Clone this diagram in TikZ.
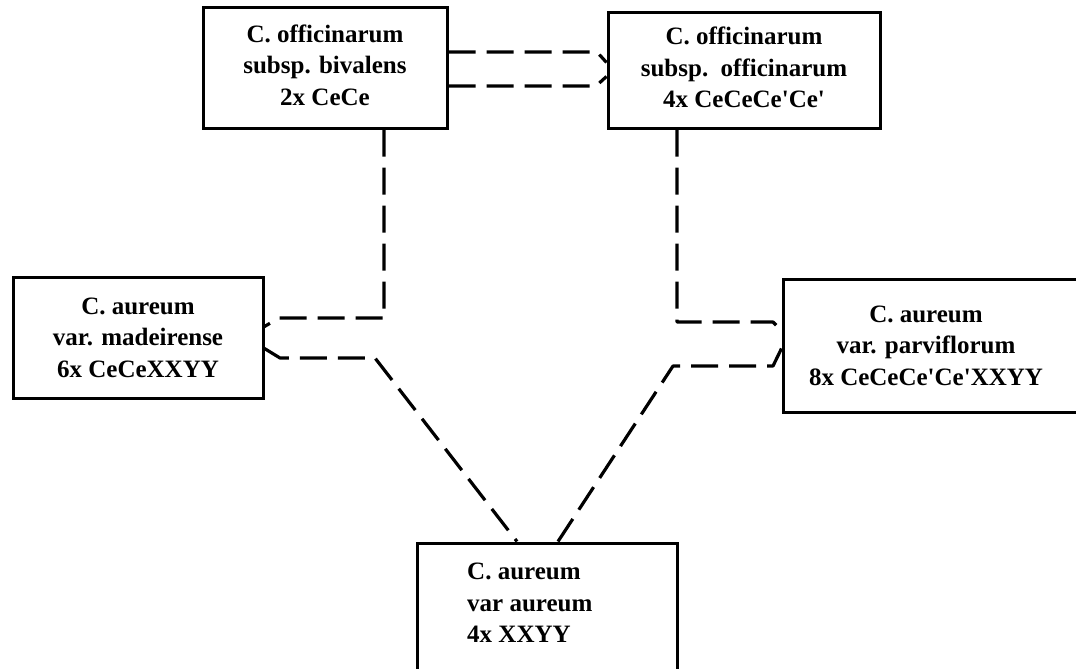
\documentclass[tikz,border=0pt]{standalone}
\usepackage{fontspec}
\setmainfont{Liberation Serif}[Ligatures=TeXOff]
\usetikzlibrary{calc}
\begin{document}
\begin{tikzpicture}[x=1pt,y=-1pt,
  box/.style={draw,line width=3pt,inner sep=0pt,align=center,
    font=\fontsize{25}{31.5}\selectfont\bfseries},
  conn/.style={line width=3.2pt,dash pattern=on 27pt off 11pt,line join=round},
  lbl/.style={inner sep=0pt,font=\fontsize{25}{31.5}\selectfont\bfseries}]
\useasboundingbox (0,0) rectangle (1076,669);
\begin{scope}
\clip (0,0) rectangle (1076,669);
\node[box,minimum width=244pt,minimum height=120pt] (b1) at (325,68)
  {C. officinarum\\subsp. bivalens\\2x CeCe\rule[-6pt]{0pt}{1pt}};
\node[box,minimum width=272pt,minimum height=115pt] (b2) at (744,70.5)
  {C. officinarum\\subsp.\ \ officinarum\\4x CeCeCe'Ce'\rule[-6pt]{0pt}{1pt}};
\node[box,minimum width=250pt,minimum height=121pt] (b3) at (138,337.5)
  {C. aureum\\var. madeirense\\6x CeCeXXYY};
\node[box,minimum width=299pt,minimum height=133pt] (b4) at (932.5,345.5) {};
\node[lbl,align=center] (t4) at (926,345.5)
  {C. aureum\\var. parviflorum\\8x CeCeCe'Ce'XXYY};
\node[box,minimum width=260pt,minimum height=177pt] (b5) at (547,631.5) {};
\node[lbl,align=left,anchor=north west] (t5) at (467,563)
  {C. aureum\\var aureum\\4x XXYY};
\end{scope}
% top pair
\draw[conn] ([yshift=16pt]b1.east) -- (597,52) -- ([yshift=8pt]b2.west);
\draw[conn] ([yshift=-18pt]b1.east) -- (596,86) -- ([yshift=-6pt]b2.west);
% left side
\draw[conn] ([xshift=59pt]b1.south) -- (384,318) -- (279,318) -- ([yshift=11pt]b3.east);
\draw[conn] ([yshift=-11pt]b3.east) -- (280,358) -- (375,358) -- ([xshift=-30pt]b5.north);
% right side
\draw[conn] ([xshift=-67pt]b2.south) -- (677,322) -- (773,322) -- ([yshift=15pt]b4.west);
\draw[conn] ([xshift=11pt]b5.north) -- (673,366) -- (773,366) -- ([yshift=-3pt]b4.west);
\end{tikzpicture}
\end{document}
